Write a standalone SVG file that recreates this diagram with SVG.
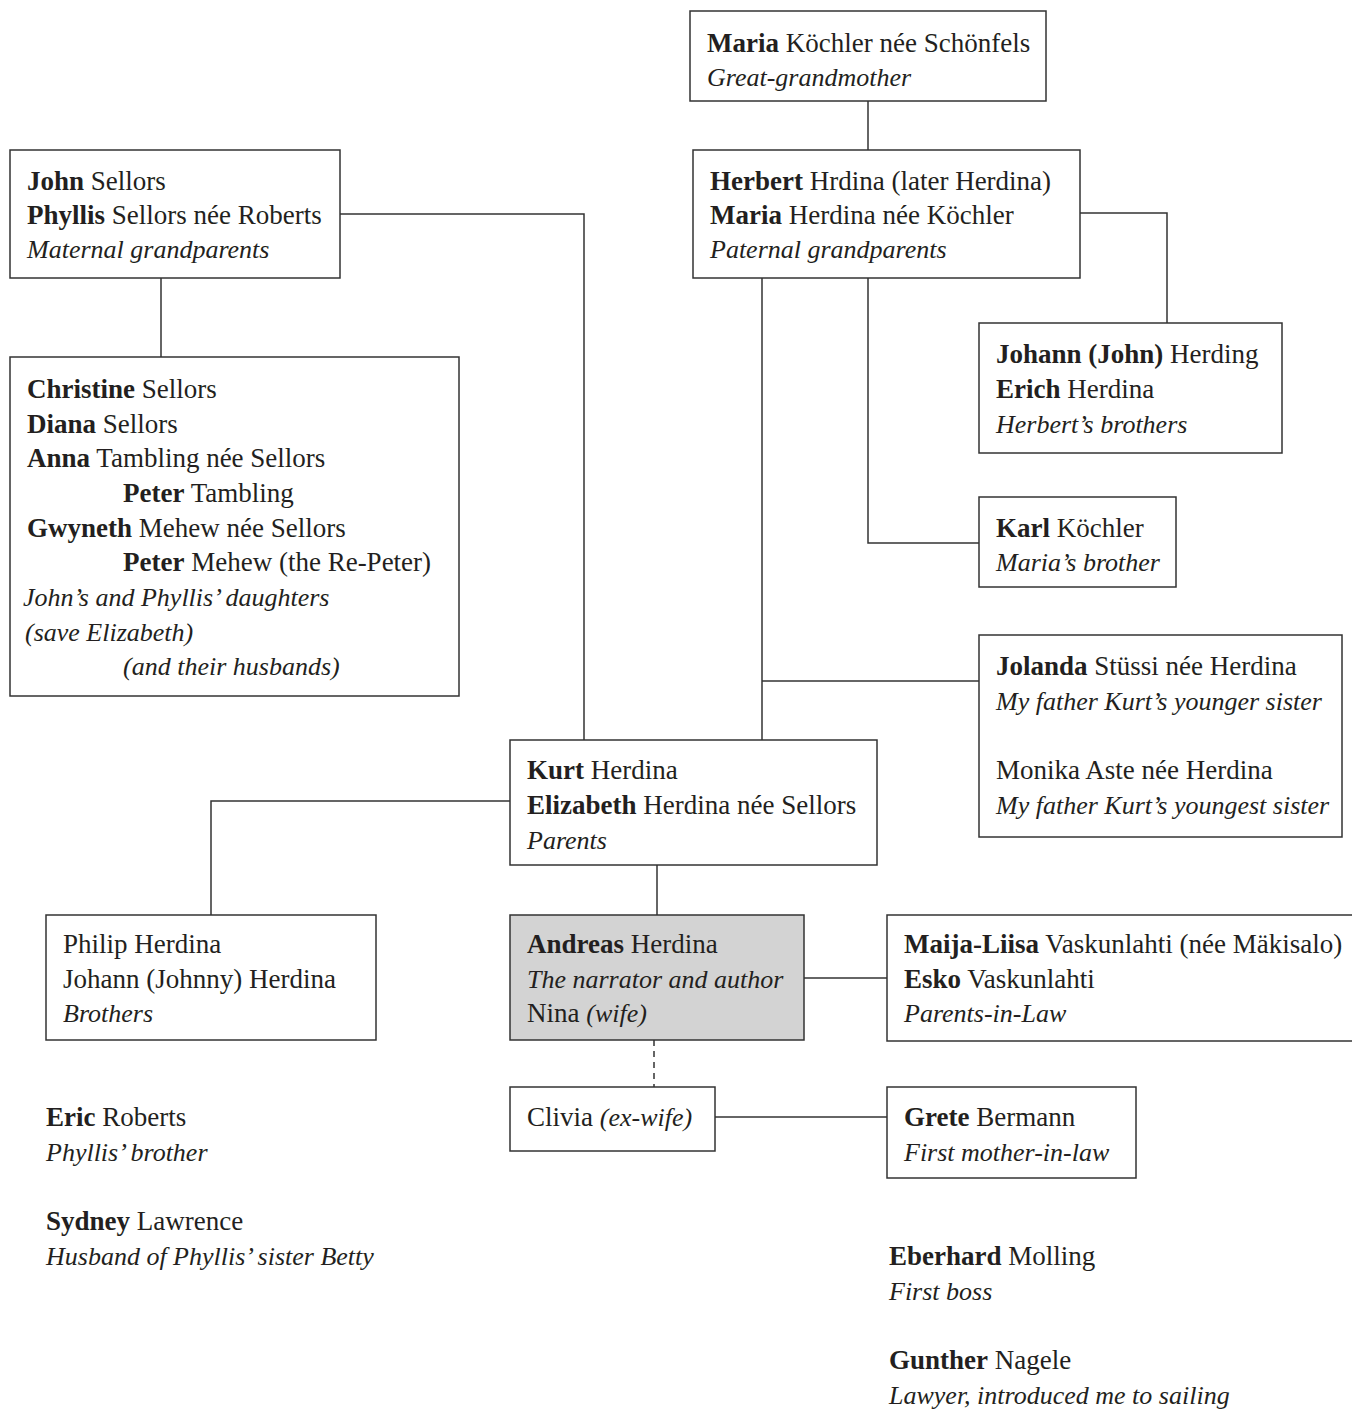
<svg xmlns="http://www.w3.org/2000/svg" width="1352" height="1411" viewBox="0 0 1352 1411">
<style>
text{font-family:'Liberation Serif','DejaVu Serif',serif;font-size:27px;fill:#231f20}
.b{font-weight:bold}
.i{font-style:italic;font-size:26px}
.box{fill:#fff;stroke:#333;stroke-width:1.5}
.hl{fill:#d3d3d3}
.ln{fill:none;stroke:#333;stroke-width:1.5}
.dash{stroke-dasharray:6 5}
</style>
<rect width="1352" height="1411" fill="#fff"/>
<g id="connectors">
<path class="ln" d="M868 101V150"/>
<path class="ln" d="M340 214H584V740"/>
<path class="ln" d="M161 278V357"/>
<path class="ln" d="M1080 213H1167V323"/>
<path class="ln" d="M868 278V543H979"/>
<path class="ln" d="M762 278V740"/>
<path class="ln" d="M762 681H979"/>
<path class="ln" d="M510 801H211V915"/>
<path class="ln" d="M657 865V915"/>
<path class="ln" d="M804 978H887"/>
<path class="ln dash" d="M654 1040V1087"/>
<path class="ln" d="M715 1117H887"/>
</g>
<g id="maria-koechler">
<rect class="box" x="690" y="11" width="356" height="90"/>
<text x="707" y="52"><tspan class="b">Maria</tspan> Köchler née Schönfels</text>
<text x="707" y="86" class="i">Great-grandmother</text>
</g>
<g id="herbert">
<rect class="box" x="693" y="150" width="387" height="128"/>
<text x="710" y="190"><tspan class="b">Herbert</tspan> Hrdina (later Herdina)</text>
<text x="710" y="224"><tspan class="b">Maria</tspan> Herdina née Köchler</text>
<text x="710" y="258" class="i">Paternal grandparents</text>
</g>
<g id="john-sellors">
<rect class="box" x="10" y="150" width="330" height="128"/>
<text x="27" y="190"><tspan class="b">John</tspan> Sellors</text>
<text x="27" y="224"><tspan class="b">Phyllis</tspan> Sellors née Roberts</text>
<text x="27" y="258" class="i">Maternal grandparents</text>
</g>
<g id="daughters">
<rect class="box" x="10" y="357" width="449" height="339"/>
<text x="27" y="398"><tspan class="b">Christine</tspan> Sellors</text>
<text x="27" y="433"><tspan class="b">Diana</tspan> Sellors</text>
<text x="27" y="467"><tspan class="b">Anna</tspan> Tambling née Sellors</text>
<text x="123" y="502"><tspan class="b">Peter</tspan> Tambling</text>
<text x="27" y="537"><tspan class="b">Gwyneth</tspan> Mehew née Sellors</text>
<text x="123" y="571"><tspan class="b">Peter</tspan> Mehew (the Re-Peter)</text>
<text x="23" y="606" class="i">John’s and Phyllis’ daughters</text>
<text x="25" y="641" class="i">(save Elizabeth)</text>
<text x="123" y="675" class="i">(and their husbands)</text>
</g>
<g id="herberts-brothers">
<rect class="box" x="979" y="323" width="303" height="130"/>
<text x="996" y="363"><tspan class="b">Johann (John)</tspan> Herding</text>
<text x="996" y="398"><tspan class="b">Erich</tspan> Herdina</text>
<text x="996" y="433" class="i">Herbert’s brothers</text>
</g>
<g id="karl">
<rect class="box" x="979" y="497" width="197" height="90"/>
<text x="996" y="537"><tspan class="b">Karl</tspan> Köchler</text>
<text x="996" y="571" class="i">Maria’s brother</text>
</g>
<g id="sisters">
<rect class="box" x="979" y="635" width="363" height="202"/>
<text x="996" y="675"><tspan class="b">Jolanda</tspan> Stüssi née Herdina</text>
<text x="996" y="710" class="i">My father Kurt’s younger sister</text>
<text x="996" y="779">Monika Aste née Herdina</text>
<text x="996" y="814" class="i">My father Kurt’s youngest sister</text>
</g>
<g id="parents">
<rect class="box" x="510" y="740" width="367" height="125"/>
<text x="527" y="779"><tspan class="b">Kurt</tspan> Herdina</text>
<text x="527" y="814"><tspan class="b">Elizabeth</tspan> Herdina née Sellors</text>
<text x="527" y="849" class="i">Parents</text>
</g>
<g id="brothers">
<rect class="box" x="46" y="915" width="330" height="125"/>
<text x="63" y="953">Philip Herdina</text>
<text x="63" y="988">Johann (Johnny) Herdina</text>
<text x="63" y="1022" class="i">Brothers</text>
</g>
<g id="andreas">
<rect class="box hl" x="510" y="915" width="294" height="125"/>
<text x="527" y="953"><tspan class="b">Andreas</tspan> Herdina</text>
<text x="527" y="988" class="i">The narrator and author</text>
<text x="527" y="1022">Nina <tspan class="i">(wife)</tspan></text>
</g>
<g id="parents-in-law">
<rect class="box" x="887" y="915" width="520" height="126"/>
<text x="904" y="953"><tspan class="b">Maija-Liisa</tspan> Vaskunlahti (née Mäkisalo)</text>
<text x="904" y="988"><tspan class="b">Esko</tspan> Vaskunlahti</text>
<text x="904" y="1022" class="i">Parents-in-Law</text>
</g>
<g id="clivia">
<rect class="box" x="510" y="1087" width="205" height="64"/>
<text x="527" y="1126">Clivia <tspan class="i">(ex-wife)</tspan></text>
</g>
<g id="grete">
<rect class="box" x="887" y="1087" width="249" height="91"/>
<text x="904" y="1126"><tspan class="b">Grete</tspan> Bermann</text>
<text x="904" y="1161" class="i">First mother-in-law</text>
</g>
<g id="eric">
<text x="46" y="1126"><tspan class="b">Eric</tspan> Roberts</text>
<text x="46" y="1161" class="i">Phyllis’ brother</text>
</g>
<g id="sydney">
<text x="46" y="1230"><tspan class="b">Sydney</tspan> Lawrence</text>
<text x="46" y="1265" class="i">Husband of Phyllis’ sister Betty</text>
</g>
<g id="eberhard">
<text x="889" y="1265"><tspan class="b">Eberhard</tspan> Molling</text>
<text x="889" y="1300" class="i">First boss</text>
</g>
<g id="gunther">
<text x="889" y="1369"><tspan class="b">Gunther</tspan> Nagele</text>
<text x="889" y="1404" class="i">Lawyer, introduced me to sailing</text>
</g>
</svg>
